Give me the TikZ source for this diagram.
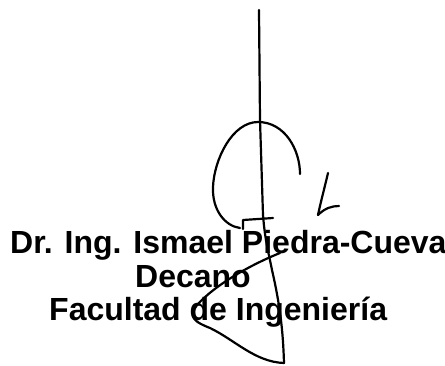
\documentclass[tikz,border=0pt]{standalone}
\usepackage{fontspec}
\setmainfont{Liberation Sans}
\tikzset{>=latex}
\tikzstyle{pen}=[line width=2.2pt,line cap=round,line join=round]
\tikzstyle{label}=[anchor=base west,inner sep=0,font=\fontsize{32}{36}\selectfont\bfseries]

\begin{document}
\begin{tikzpicture}[x=1pt,y=-1pt]
  \useasboundingbox (0,0) rectangle (445,365);
  % text lines
  \node[label] (name) at (10,253) {Dr. Ing. Ismael Piedra-Cueva};
  \node[label] (post) at (135,287) {Decano};
  \node[label] (dept) at (49,320) {Facultad de Ingenier\'ia};
  % signature
  \draw[pen] (259,10) -- (260,120) -- (263,215)
             .. controls (265,240) and (268,250) .. (272,270)
             .. controls (280,305) and (283,330) .. (284,363);
  \draw[pen] (300,174) .. controls (300,150) and (285,122) .. (258,122)
             .. controls (232,122) and (214,160) .. (213,187)
             .. controls (212,210) and (225,226) .. (240,228);
  \draw[pen] (243,229) -- (243,220) -- (273,218);
  \draw[pen] (328,173) .. controls (324,190) and (320,205) .. (318,215)
             .. controls (325,208) and (332,206) .. (339,206);
  \draw[pen] (280,253) .. controls (250,265) and (215,285) .. (197,305)
             .. controls (188,318) and (195,322) .. (210,328)
             .. controls (235,340) and (255,362) .. (284,363);
\end{tikzpicture}
\end{document}
